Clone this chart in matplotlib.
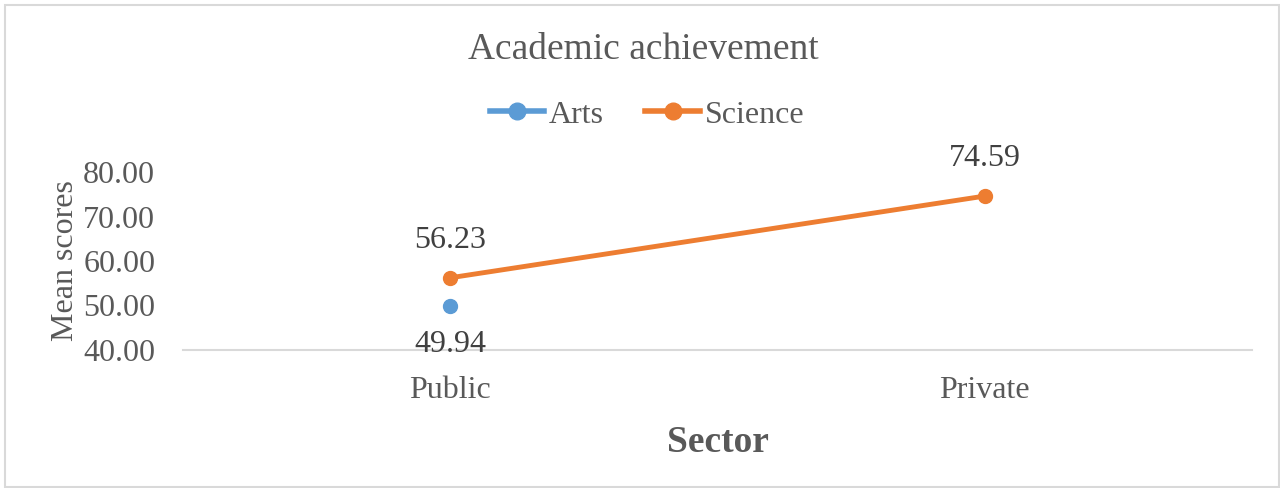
import numpy as np
import matplotlib.pyplot as plt
from matplotlib.patches import Rectangle

# data
sectors = ["Public", "Private"]
arts = [49.94, np.nan]
science = [56.23, 74.59]

plt.rcParams['font.family'] = ['Liberation Serif', 'DejaVu Serif']

gray = '#595959'
blue = '#5B9BD5'
orange = '#ED7D31'

fig = plt.figure(figsize=(12.8, 4.88), dpi=100)
ax = fig.add_axes([183/1280, 1 - 350/488, (1252 - 183)/1280, (350 - 172)/488])

x = np.arange(len(sectors))
ax.plot(x, arts, color=blue, lw=3, marker='o', ms=10, label='Arts')
ax.plot(x, science, color=orange, lw=3.5, marker='o', ms=10, label='Science')

# data labels
for xi, v in zip(x, arts):
    if not np.isnan(v):
        ax.annotate(f"{v:.2f}", (xi, v), xytext=(0, -28), textcoords='offset points',
                    ha='center', va='center', fontsize=23, color='#404040')
for xi, v in zip(x, science):
    ax.annotate(f"{v:.2f}", (xi, v), xytext=(0, 27), textcoords='offset points',
                ha='center', va='center', fontsize=23, color='#404040')

ax.set_xlim(-0.5, 1.5)
ax.set_ylim(40, 80)
ax.set_yticks(np.arange(40, 81, 10))
ax.set_yticklabels([f"{t:.2f}" for t in np.arange(40, 81, 10)])
ax.set_xticks(x)
ax.set_xticklabels(sectors)
ax.tick_params(axis='both', length=0, labelsize=23, labelcolor=gray)
ax.tick_params(axis='y', pad=20)
ax.tick_params(axis='x', pad=19)

for s in ['top', 'right', 'left']:
    ax.spines[s].set_visible(False)
ax.spines['bottom'].set_color('#D9D9D9')
ax.spines['bottom'].set_linewidth(1.5)

ax.set_ylabel("Mean scores", fontsize=23, color=gray, labelpad=2)
ax.set_xlabel("Sector", fontsize=27, fontweight='bold', color=gray, labelpad=14)

fig.text(643/1280, 1 - 50/488, "Academic achievement", ha='center', va='center',
         fontsize=27, color=gray)

leg = fig.legend(loc='center', bbox_to_anchor=(647/1280, 1 - 115/488), ncol=2,
                 frameon=False, fontsize=23, handlelength=1.7, handletextpad=0.15,
                 columnspacing=1.3)
for t in leg.get_texts():
    t.set_color(gray)
for h in leg.legend_handles:
    h.set_linewidth(4)
    h.set_markersize(12)

fig.patches.append(Rectangle((5/1280, 1/488), 1274/1280, 482/488, transform=fig.transFigure,
                             fill=False, edgecolor='#D9D9D9', lw=1.5))

fig.savefig('out.png', dpi=100)
